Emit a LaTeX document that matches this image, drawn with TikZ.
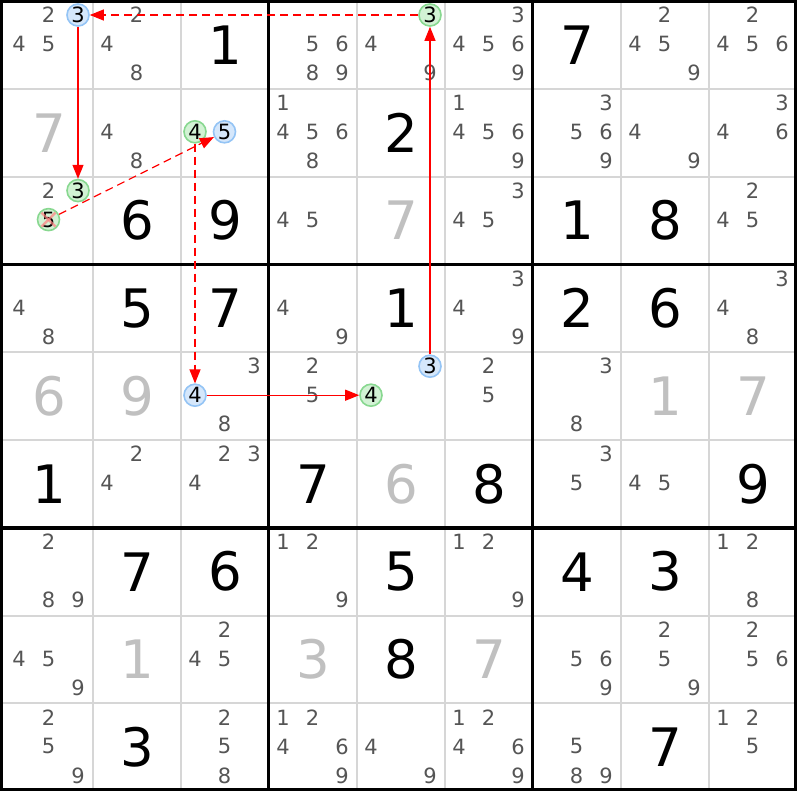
\documentclass[tikz,border=0pt]{standalone}
\usepackage{fontspec}
\setmainfont{DejaVu Sans}
\usetikzlibrary{arrows.meta}
\definecolor{candc}{HTML}{555555}
\definecolor{solvc}{HTML}{C0C0C0}
\definecolor{gridc}{HTML}{D6D6D6}
\definecolor{bluef}{HTML}{D5E7FB}
\definecolor{blued}{HTML}{94C4F5}
\definecolor{greenf}{HTML}{D2F2D4}
\definecolor{greend}{HTML}{88D890}
\definecolor{xmarkc}{HTML}{FF8080}
\tikzset{
  cand/.style={inner sep=0pt, text=candc, font=\fontsize{21}{25}\selectfont},
  givencell/.style={inner sep=0pt, text=black, font=\fontsize{53}{60}\selectfont},
  solvedcell/.style={inner sep=0pt, text=solvc, font=\fontsize{53}{60}\selectfont},
  bluecirc/.style={circle, inner sep=0pt, minimum size=22pt, draw=blued, fill=bluef, line width=1.6pt, text=black, font=\fontsize{21}{25}\selectfont},
  greencirc/.style={circle, inner sep=0pt, minimum size=22pt, draw=greend, fill=greenf, line width=1.6pt, text=black, font=\fontsize{21}{25}\selectfont},
  thingrid/.style={gridc, line width=2pt},
  thickgrid/.style={black, line width=3.5pt},
  lnk/.style={red, line width=1.2pt, -{Triangle[length=14pt,width=11pt]}},
  lnkdash/.style={lnk, dash pattern=on 8pt off 5pt},
  xmarkline/.style={xmarkc, opacity=0.7, line width=2.5pt}
}
\newcommand\cands[3]{%
  \foreach \d in {#3}{%
    \pgfmathtruncatemacro\jj{mod(\d-1,3)}%
    \pgfmathtruncatemacro\ii{(\d-1)/3}%
    \node[cand] (k#1#2\d) at ({19+88*#2+29.5*\jj},{15+87.8*#1+29*\ii}) {\d};
  }}
\newcommand\ccand[5]{%
  \pgfmathtruncatemacro\jj{mod(#5-1,3)}%
  \pgfmathtruncatemacro\ii{(#5-1)/3}%
  \node[#1] (#2) at ({19+88*#4+29.5*\jj},{15+87.8*#3+29*\ii}) {#5};}
\newcommand\givn[3]{\node[givencell] (g#1#2) at ({49+88*#2},{44.9+87.8*#1}) {#3};}
\newcommand\solv[3]{\node[solvedcell] (s#1#2) at ({49+88*#2},{44.9+87.8*#1}) {#3};}
\begin{document}
\begin{tikzpicture}[x=1pt,y=-1pt]
\useasboundingbox (0,0) rectangle (800,800);
\fill[white] (0,0) rectangle (800,800);
% grid
\foreach \c in {1,2,4,5,7,8} \draw[thingrid] ({5+88*\c},1.5) -- ({5+88*\c},789.5);
\foreach \r in {1,2,4,5,7,8} \draw[thingrid] (1.5,{1+87.8*\r}) -- (795.5,{1+87.8*\r});
\draw[thickgrid] (268.5,1.5) -- (268.5,789.5);
\draw[thickgrid] (532.5,1.5) -- (532.5,789.5);
\draw[thickgrid] (1.5,264.4) -- (795.5,264.4);
\draw[thickgrid] (1.5,527.8) -- (795.5,527.8);
\draw[black, line width=3pt] (1.5,1.5) rectangle (795.5,789.5);
% row 0
\cands{0}{0}{2,4,5}
\cands{0}{1}{2,4,8}
\givn{0}{2}{1}
\cands{0}{3}{5,6,8,9}
\cands{0}{4}{4,9}
\cands{0}{5}{3,4,5,6,9}
\givn{0}{6}{7}
\cands{0}{7}{2,4,5,9}
\cands{0}{8}{2,4,5,6}
% row 1
\solv{1}{0}{7}
\cands{1}{1}{4,8}
\cands{1}{3}{1,4,5,6,8}
\givn{1}{4}{2}
\cands{1}{5}{1,4,5,6,9}
\cands{1}{6}{3,5,6,9}
\cands{1}{7}{4,9}
\cands{1}{8}{3,4,6}
% row 2
\cands{2}{0}{2}
\givn{2}{1}{6}
\givn{2}{2}{9}
\cands{2}{3}{4,5}
\solv{2}{4}{7}
\cands{2}{5}{3,4,5}
\givn{2}{6}{1}
\givn{2}{7}{8}
\cands{2}{8}{2,4,5}
% row 3
\cands{3}{0}{4,8}
\givn{3}{1}{5}
\givn{3}{2}{7}
\cands{3}{3}{4,9}
\givn{3}{4}{1}
\cands{3}{5}{3,4,9}
\givn{3}{6}{2}
\givn{3}{7}{6}
\cands{3}{8}{3,4,8}
% row 4
\solv{4}{0}{6}
\solv{4}{1}{9}
\cands{4}{2}{3,8}
\cands{4}{3}{2,5}
\cands{4}{5}{2,5}
\cands{4}{6}{3,8}
\solv{4}{7}{1}
\solv{4}{8}{7}
% row 5
\givn{5}{0}{1}
\cands{5}{1}{2,4}
\cands{5}{2}{2,3,4}
\givn{5}{3}{7}
\solv{5}{4}{6}
\givn{5}{5}{8}
\cands{5}{6}{3,5}
\cands{5}{7}{4,5}
\givn{5}{8}{9}
% row 6
\cands{6}{0}{2,8,9}
\givn{6}{1}{7}
\givn{6}{2}{6}
\cands{6}{3}{1,2,9}
\givn{6}{4}{5}
\cands{6}{5}{1,2,9}
\givn{6}{6}{4}
\givn{6}{7}{3}
\cands{6}{8}{1,2,8}
% row 7
\cands{7}{0}{4,5,9}
\solv{7}{1}{1}
\cands{7}{2}{2,4,5}
\solv{7}{3}{3}
\givn{7}{4}{8}
\solv{7}{5}{7}
\cands{7}{6}{5,6,9}
\cands{7}{7}{2,5,9}
\cands{7}{8}{2,5,6}
% row 8
\cands{8}{0}{2,5,9}
\givn{8}{1}{3}
\cands{8}{2}{2,5,8}
\cands{8}{3}{1,2,4,6,9}
\cands{8}{4}{4,9}
\cands{8}{5}{1,2,4,6,9}
\cands{8}{6}{5,8,9}
\givn{8}{7}{7}
\cands{8}{8}{1,2,5}
% highlighted candidates
\ccand{bluecirc}{a003}{0}{0}{3}
\ccand{greencirc}{a043}{0}{4}{3}
\ccand{greencirc}{a124}{1}{2}{4}
\ccand{bluecirc}{a125}{1}{2}{5}
\ccand{greencirc}{a203}{2}{0}{3}
\ccand{greencirc}{a205}{2}{0}{5}
\ccand{bluecirc}{a424}{4}{2}{4}
\ccand{bluecirc}{a443}{4}{4}{3}
\ccand{greencirc}{a444}{4}{4}{4}
% eliminated mark
\draw[xmarkline] ([shift={(-7,-7)}]a205.center) -- ([shift={(7,7)}]a205.center);
\draw[xmarkline] ([shift={(-7,7)}]a205.center) -- ([shift={(7,-7)}]a205.center);
% chain links
\draw[lnk] (a443) -- (a043);
\draw[lnkdash] (a043) -- (a003);
\draw[lnk] (a003) -- (a203);
\draw[lnkdash] (a205) -- (a125);
\draw[lnkdash] (a124) -- (a424);
\draw[lnk] (a424) -- (a444);
\end{tikzpicture}
\end{document}
